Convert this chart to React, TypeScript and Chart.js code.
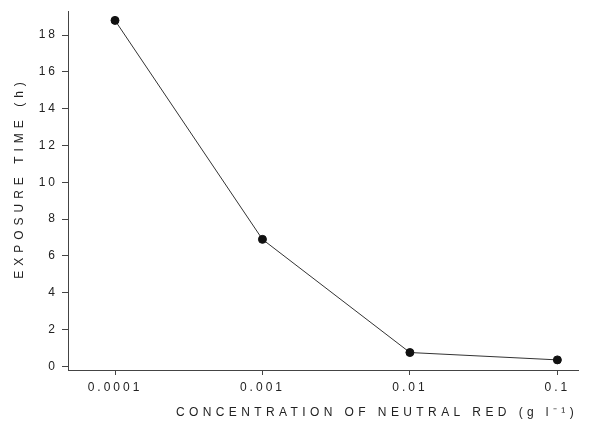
import React, { useEffect, useRef } from "react";
import { Chart, registerables } from "chart.js";

Chart.register(...registerables);

const concentrations = [0.0001, 0.001, 0.01, 0.1];
const exposureHours = [18.8, 6.9, 0.75, 0.35];
const xTickValues = [0.0001, 0.001, 0.01, 0.1];
const xTickLabels = ["0.0001", "0.001", "0.01", "0.1"];
const yTickValues = [0, 2, 4, 6, 8, 10, 12, 14, 16, 18];
const xTitle = "CONCENTRATION OF NEUTRAL RED (g l\u207B\u00B9)";
const yTitle = "EXPOSURE TIME (h)";

const FONT = "'Liberation Sans', Arial, sans-serif";

const spacingPlugin = {
  id: "spacing",
  beforeLayout(chart: any) {
    (chart.ctx as any).letterSpacing = "3px";
  },
  beforeDraw(chart: any) {
    (chart.ctx as any).letterSpacing = "3px";
  },
};

const titlesPlugin = {
  id: "titles",
  afterDraw(chart: any) {
    const ctx = chart.ctx;
    ctx.save();
    ctx.fillStyle = "#222";
    ctx.font = `12px ${FONT}`;
    (ctx as any).letterSpacing = "4.4px";
    ctx.textAlign = "center";
    ctx.textBaseline = "middle";
    ctx.fillText(xTitle, 377, 413);
    ctx.restore();
    ctx.save();
    ctx.fillStyle = "#222";
    ctx.font = `12px ${FONT}`;
    (ctx as any).letterSpacing = "5px";
    ctx.textAlign = "center";
    ctx.textBaseline = "middle";
    ctx.translate(20, 178);
    ctx.rotate(-Math.PI / 2);
    ctx.fillText(yTitle, 0, 0);
    ctx.restore();
  },
};

export default function App() {
  const ref = useRef<HTMLCanvasElement>(null);
  useEffect(() => {
    if (!ref.current) return;
    const chart = new Chart(ref.current, {
      type: "line",
      data: {
        datasets: [
          {
            data: concentrations.map((c, i) => ({ x: c, y: exposureHours[i] })),
            borderColor: "#333",
            borderWidth: 1,
            pointRadius: 4,
            pointBackgroundColor: "#111",
            pointBorderColor: "#111",
            tension: 0,
          },
        ],
      },
      options: {
        animation: false,
        responsive: false,
        maintainAspectRatio: false,
        layout: { padding: { top: 10, right: 11, left: 0, bottom: 0 } },
        plugins: { legend: { display: false }, tooltip: { enabled: false } },
        scales: {
          x: {
            type: "logarithmic",
            min: 4.8e-5,
            max: 0.138,
            afterBuildTicks: (s: any) => {
              s.ticks = xTickValues.map((v) => ({ value: v }));
            },
            afterFit: (s: any) => {
              s.height = 66;
            },
            ticks: {
              autoSkip: false,
              maxRotation: 0,
              color: "#222",
              padding: 5,
              font: { family: FONT, size: 12 },
              callback: (v: any) => {
                const i = xTickValues.findIndex((t) => Math.abs(t - v) / t < 1e-6);
                return i >= 0 ? xTickLabels[i] : "";
              },
            },
            grid: { drawOnChartArea: false, drawTicks: true, tickLength: 5, color: "#444" },
            border: { display: true, color: "#444", width: 1 },
          },
          y: {
            type: "linear",
            min: -0.2,
            max: 19.3,
            afterBuildTicks: (s: any) => {
              s.ticks = yTickValues.map((v) => ({ value: v }));
            },
            afterFit: (s: any) => {
              s.width = 68;
            },
            ticks: {
              color: "#222",
              padding: 4,
              font: { family: FONT, size: 12 },
            },
            grid: { drawOnChartArea: false, drawTicks: true, tickLength: 6, color: "#444" },
            border: { display: true, color: "#444", width: 1 },
          },
        },
      },
      plugins: [spacingPlugin, titlesPlugin],
    });
    return () => chart.destroy();
  }, []);
  return (
    <div style={{ position: "fixed", left: 0, top: 0, width: 589, height: 436, background: "#fff" }}>
      <canvas ref={ref} width={589} height={436} style={{ width: 589, height: 436 }} />
    </div>
  );
}
